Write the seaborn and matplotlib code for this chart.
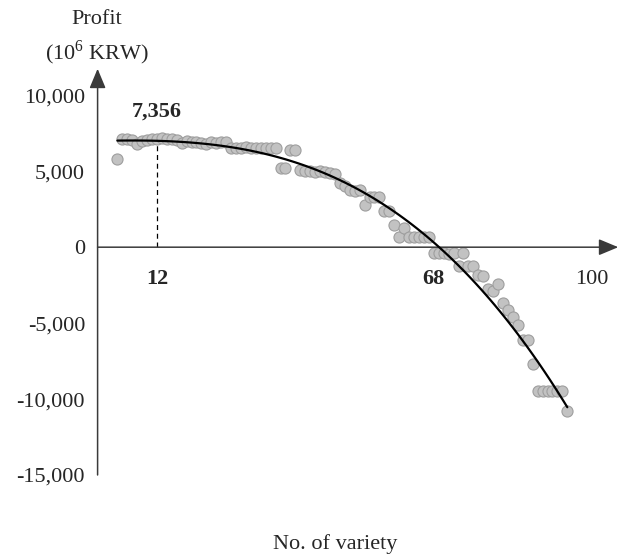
import matplotlib
matplotlib.use("Agg")
import matplotlib.pyplot as plt
import seaborn as sns
import pandas as pd

# values
variety = list(range(4, 96))
profit = [5800, 7100, 7150, 7050, 6800, 7000, 7050, 7100, 7150, 7200,
          7150, 7100, 7050, 6850, 7000, 6900, 6950, 6850, 6800, 6900,
          6850, 6950, 6900, 6500, 6550, 6500, 6600, 6550, 6500, 6550,
          6500, 6550, 6500, 5200, 5200, 6400, 6400, 5100, 5000, 5000,
          4950, 5000, 4950, 4900, 4850, 4250, 4000, 3750, 3700, 3750,
          2750, 3300, 3300, 3300, 2400, 2400, 1450, 650, 1250, 650,
          650, 650, 650, 650, -400, -400, -400, -450, -400, -1250,
          -400, -1250, -1250, -1850, -1900, -2750, -2900, -2400, -3700, -4150,
          -4600, -5150, -6100, -6100, -7700, -9500, -9500, -9500, -9500, -9500,
          -9500, -10800]

y_ticks = [10000, 5000, 0, -5000, -10000, -15000]
y_tick_labels = ['10,000', '5,000', '0', '-5,000', '-10,000', '-15,000']
x_marks = [12, 68, 100]
x_mark_labels = ['12', '68', '100']
peak_x = 12
peak_label = '7,356'

df = pd.DataFrame({'variety': variety, 'profit': profit})

sns.set_style('white')
plt.rcParams['font.family'] = ['Liberation Serif', 'DejaVu Serif']
plt.rcParams['mathtext.fontset'] = 'custom'
plt.rcParams['mathtext.rm'] = 'Liberation Serif'

fig = plt.figure(figsize=(6.24, 5.59), dpi=100)
ax = fig.add_axes([0.1564, 0.1503, 0.832, 0.7335])

sns.scatterplot(data=df, x='variety', y='profit', ax=ax, s=64,
                color='#C2C2C2', edgecolor='#9E9E9E', linewidth=0.8, zorder=3)
sns.regplot(data=df, x='variety', y='profit', ax=ax, order=3, ci=None,
            scatter=False, line_kws=dict(color='black', lw=1.6, zorder=4))

ax.set_xlim(0, 105)
ax.set_ylim(-15000, 12000)
for sp in ax.spines.values():
    sp.set_visible(False)

arrow = dict(arrowstyle='-|>,head_length=0.6,head_width=0.25', color='#3a3a3a',
             lw=1.1, mutation_scale=20, shrinkA=0, shrinkB=0)
ax.annotate('', xy=(0, 11750), xytext=(0, -15000), arrowprops=arrow,
            annotation_clip=False)
ax.annotate('', xy=(105.3, 0), xytext=(0, 0), arrowprops=arrow,
            annotation_clip=False)

# dashed guide at the peak
ax.plot([peak_x, peak_x], [0, 7150], color='black', lw=0.9, ls=(0, (4, 3)), zorder=2)
ax.text(peak_x, 8900, peak_label, ha='center', va='center',
        fontsize=16, fontweight='bold')

ax.set_yticks(y_ticks)
ax.set_yticklabels(y_tick_labels, fontsize=16)
ax.set_xticks([])
ax.tick_params(axis='y', length=0, pad=9)
ax.set_xlabel('')
ax.set_ylabel('')

for xv, lab in zip(x_marks, x_mark_labels):
    ax.text(xv, -2100, lab, ha='center', va='center', fontsize=16,
            fontweight='normal' if lab == '100' else 'bold')

fig.text(97 / 624, 1 - 20 / 559, 'Profit', ha='center', va='center', fontsize=16)
fig.text(97 / 624, 1 - 53 / 559, '(10$^{6}$ KRW)', ha='center', va='center', fontsize=16)
fig.text(335 / 624, 1 - 544 / 559, 'No. of variety', ha='center', va='center', fontsize=16)

fig.savefig('out.png', dpi=100)
